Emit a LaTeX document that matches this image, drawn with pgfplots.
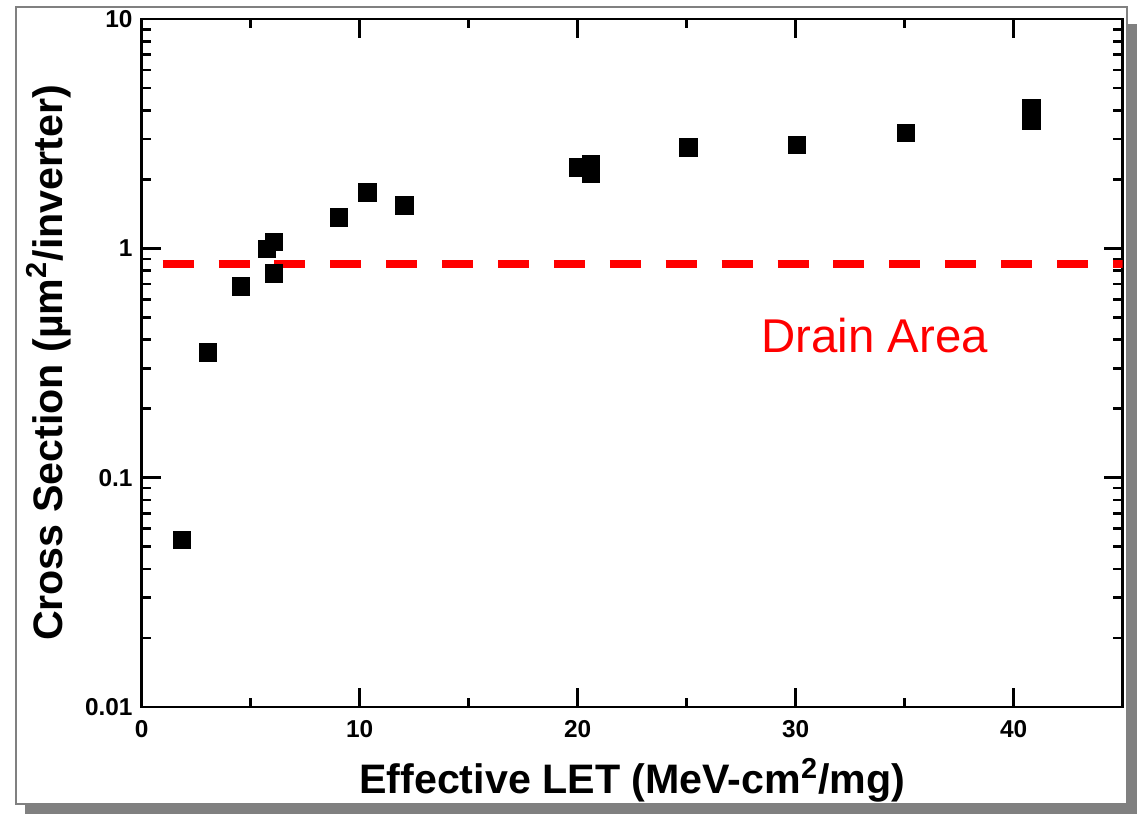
\documentclass[border=0pt]{standalone}
\usepackage{fontspec}
\setmainfont{Liberation Sans}
\usepackage{pgfplots}
\pgfplotsset{compat=1.18}
\definecolor{framegray}{RGB}{128,128,128}

\begin{document}
\begin{tikzpicture}
% page, shadow and white frame (axis box sits at the origin)
\path[use as bounding box] (-70.85pt,-53.5pt) rectangle (497.65pt,353.5pt);
\fill[framegray] (-58.35pt,-53.5pt) rectangle (497.65pt,341.5pt);
\filldraw[fill=white, draw=framegray, line width=0.75pt] (-62.85pt,-48.5pt) rectangle (492.65pt,350pt);

\begin{axis}[
  scale only axis,
  width=490.5pt, height=344pt,
  xmin=0, xmax=45,
  ymode=log, ymin=0.01, ymax=10,
  xtick={0,10,20,30,40},
  xticklabels={0,10,20,30,40},
  minor xtick={5,15,25,35},
  ytick={0.01,0.1,1,10},
  yticklabels={0.01,0.1,1,10},
  minor ytick={0.02,0.03,0.04,0.05,0.06,0.07,0.08,0.09,
               0.2,0.3,0.4,0.5,0.6,0.7,0.8,0.9,
               2,3,4,5,6,7,8,9},
  xtick pos=both, ytick pos=both,
  tick align=inside,
  major tick length=9.5pt,
  minor tick length=4.7pt,
  tick style={black, line width=1.3pt},
  axis line style={line width=1.35pt},
  /pgf/number format/assume math mode=true,
  tick label style={font=\fontsize{12.2}{14}\selectfont\bfseries},
  xticklabel style={inner sep=0pt, yshift=-6.3pt},
  yticklabel style={inner sep=0pt, xshift=-4.4pt},
  xlabel={Effective LET (MeV-cm\textsuperscript{2}/mg)},
  ylabel={Cross Section (µm\textsuperscript{2}/inverter)},
  label style={font=\fontsize{20.6}{24}\selectfont\bfseries, inner sep=0pt},
  xlabel style={at={(axis description cs:0.5,-0.1254)}, anchor=base},
  ylabel style={at={(axis description cs:-0.0812,0.5)}, anchor=base},
]

% measured cross sections
\addplot[only marks, mark=square*, mark size=4.375pt,
  mark options={fill=black, draw=black, line width=0.1pt}] coordinates {
  (1.84,0.0537) (3.02,0.352) (4.53,0.683) (5.74,0.998) (6.04,1.07)
  (6.04,0.779) (9.04,1.37) (10.35,1.76) (12.04,1.54) (20.0,2.26)
  (20.6,2.33) (20.6,2.13) (25.07,2.77) (30.05,2.84) (35.05,3.19)
  (40.8,4.11) (40.8,3.62)
};

% drain area level
\addplot[red, line width=4pt, dash pattern=on 15.5pt off 12.45pt] coordinates {
  (0.96,0.851) (45,0.851)
};

\node[anchor=base west, inner sep=0pt, text=red,
  font=\fontsize{23.7}{28}\selectfont] at (axis cs:28.41,0.35) {Drain Area};

\end{axis}
\end{tikzpicture}
\end{document}
